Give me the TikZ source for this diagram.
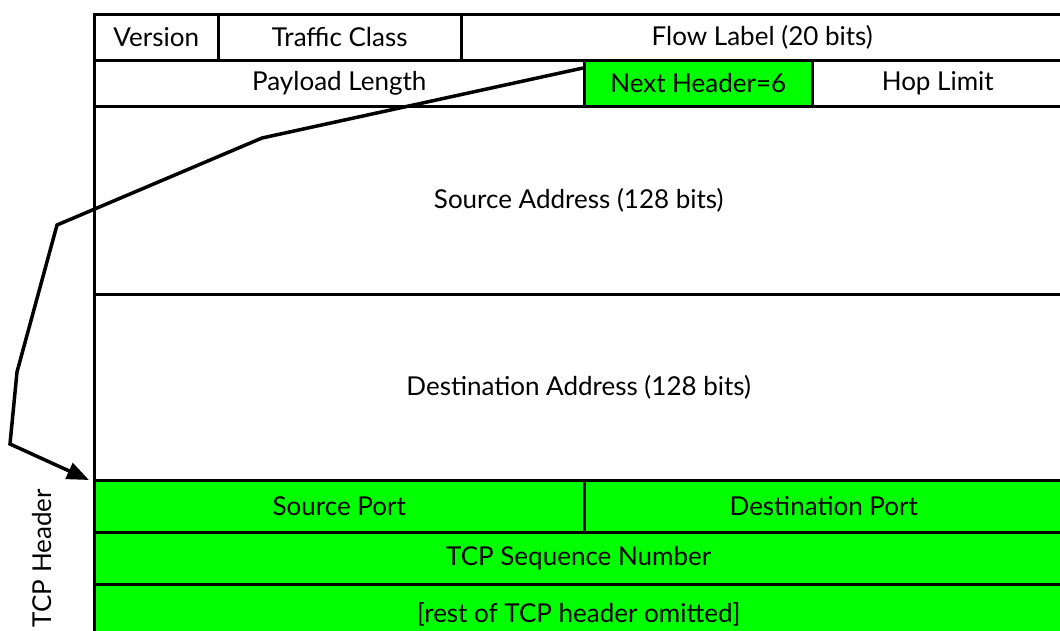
\documentclass[tikz,border=0pt]{standalone}
\usepackage{fontspec}
\setmainfont{Lato}
\usetikzlibrary{arrows.meta}
\definecolor{tcpgreen}{RGB}{0,255,0}
\tikzset{
  cell/.style={draw=black, line width=2.5pt, anchor=north west, inner sep=0pt,
               font=\fontsize{26}{30}\selectfont, text=black},
  tcpcell/.style={cell, fill=tcpgreen},
  pointer/.style={draw=black, line width=3.5pt, line join=miter,
                  -{Triangle[length=22pt,width=17pt]}}
}
\begin{document}
\begin{tikzpicture}[x=1pt,y=-1pt]
  \useasboundingbox (0,0) rectangle (1060,630);
  \clip (0,0) rectangle (1060,630);
  % IPv6 header
  \node[cell, minimum width=124pt, minimum height=46pt] (ver) at (93,13) {Version};
  \node[cell, minimum width=243pt, minimum height=46pt] (tc) at (217,13) {Traffic Class};
  \node[cell, minimum width=602pt, minimum height=46pt] (fl) at (460,13) {Flow Label (20 bits)};
  \node[cell, minimum width=490pt, minimum height=46pt] (pl) at (93,59) {Payload Length};
  \node[tcpcell, minimum width=228pt, minimum height=46pt] (nh) at (583,59) {Next Header=6};
  \node[cell, minimum width=251pt, minimum height=46pt] (hl) at (811,59) {Hop Limit};
  \node[cell, minimum width=969pt, minimum height=188pt] (src) at (93,105) {Source Address (128 bits)};
  \node[cell, minimum width=969pt, minimum height=186pt] (dst) at (93,293) {Destination Address (128 bits)};
  % TCP header
  \node[tcpcell, minimum width=490pt, minimum height=52pt] (sp) at (93,479) {Source Port};
  \node[tcpcell, minimum width=479pt, minimum height=52pt] (dp) at (583,479) {Destination Port};
  \node[tcpcell, minimum width=969pt, minimum height=52pt] (seq) at (93,531) {TCP Sequence Number};
  \node[tcpcell, minimum width=969pt, minimum height=60pt] (rest) at (93,583) {[rest of TCP header omitted]};
  \node[rotate=90, font=\fontsize{26}{30}\selectfont] (lbl) at (42,558) {TCP Header};
  % pointer from the Next Header field to the TCP header
  \coordinate (from) at ([yshift=-9pt]nh.north west);
  \draw[pointer] (from) -- (262,138) -- (57,225) -- (17,372) -- (10,444) -- ([xshift=-4pt,yshift=-1pt]sp.north west);
\end{tikzpicture}
\end{document}
